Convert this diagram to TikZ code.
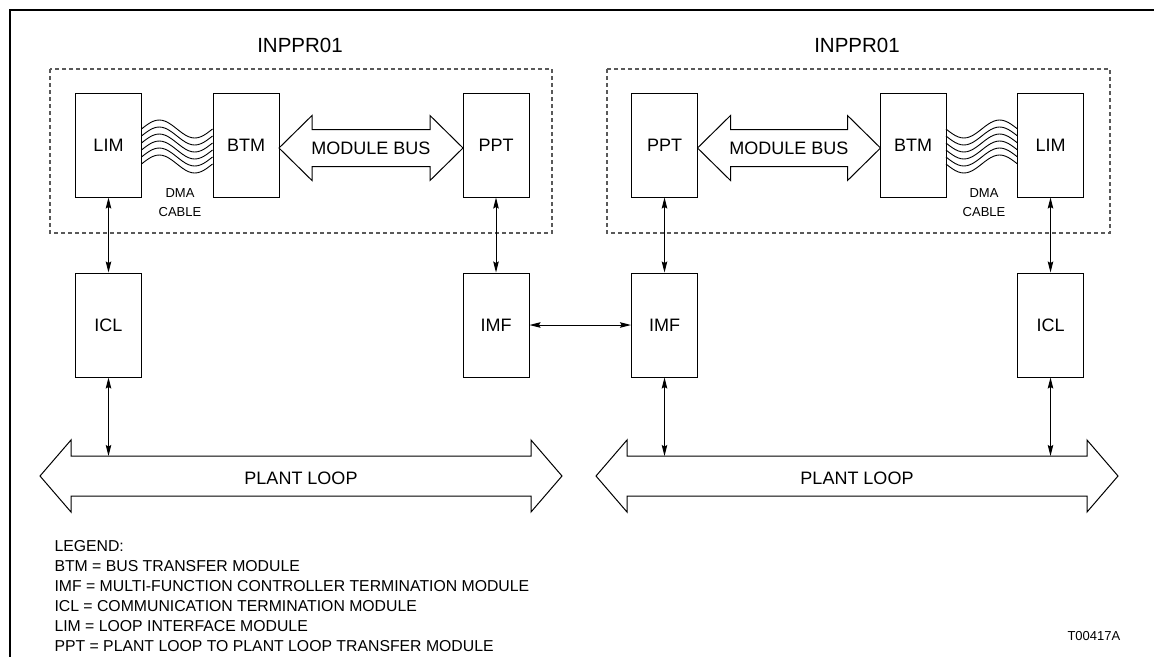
\documentclass[tikz,border=0pt]{standalone}
\usepackage{fontspec}
\setmainfont{Liberation Sans}
\usetikzlibrary{arrows.meta}

% fat double arrow: left x, right x, mid y, head length, head half height, shaft half height
\newcommand{\fatarrow}[6]{%
  \draw (#1,#3) -- (#1+#4,#3-#5) -- (#1+#4,#3-#6) -- (#2-#4,#3-#6) -- (#2-#4,#3-#5)
    -- (#2,#3) -- (#2-#4,#3+#5) -- (#2-#4,#3+#6) -- (#1+#4,#3+#6) -- (#1+#4,#3+#5) -- cycle;}

\tikzset{
  module/.style={draw, rectangle, minimum width=66pt, minimum height=104pt, inner sep=0pt,
    font=\fontsize{18}{20}\selectfont},
  buslabel/.style={inner sep=0pt, font=\fontsize{18}{20}\selectfont},
  title/.style={inner sep=0pt, font=\fontsize{20.5}{22}\selectfont},
  small/.style={inner sep=0pt, align=center, font=\fontsize{13}{19}\selectfont},
  legendline/.style={inner sep=0pt, anchor=base west, font=\fontsize{15.8}{20}\selectfont},
  link/.style={{Stealth[length=11pt,width=5.5pt,inset=1.5pt]}-{Stealth[length=11pt,width=5.5pt,inset=1.5pt]}},
  rack/.style={draw=black!65, dash pattern=on 4pt off 3pt, line width=1.3pt}
}

\begin{document}
\begin{tikzpicture}[x=1pt, y=-1pt, line width=1pt]
\useasboundingbox (0,0) rectangle (1154,657);

% frame
\draw[line width=1.3pt] (1154,10) -- (10,10) -- (10,657);

% left INPPR01
\node[title] (tleft) at (300,45) {INPPR01};
\draw[rack] (50,69) rectangle (552,233);
\node[module] (LIMa) at (108.5,145) {LIM};
\node[module] (BTMa) at (246,145) {BTM};
\node[module] (PPTa) at (496,145) {PPT};
\foreach \k in {0,...,5}
  \draw[line width=0.9pt] plot[smooth, domain=0:1, samples=25, variable=\t]
    ({141.5+71*\t},{129+7*\k-9*sin(360*\t)});
\node[small] (dmaa) at (180,202.5) {DMA\\CABLE};
\fatarrow{279}{463}{148}{33}{32.5}{18.5}
\node[buslabel] (busa) at (371,148) {MODULE BUS};

% right INPPR01
\node[title] (tright) at (857,45) {INPPR01};
\draw[rack] (607,69) rectangle (1110,233);
\node[module] (PPTb) at (664.5,145) {PPT};
\node[module] (BTMb) at (913,145) {BTM};
\node[module] (LIMb) at (1050.5,145) {LIM};
\foreach \k in {0,...,5}
  \draw[line width=0.9pt] plot[smooth, domain=0:1, samples=25, variable=\t]
    ({946+71.5*\t},{129+7*\k+9*sin(360*\t)});
\node[small] (dmab) at (984,202.5) {DMA\\CABLE};
\fatarrow{697.5}{880.5}{148}{33}{32.5}{18.5}
\node[buslabel] (busb) at (789,148) {MODULE BUS};

% termination units
\node[module] (ICLa) at (108.5,325) {ICL};
\node[module] (IMFa) at (496,325) {IMF};
\node[module] (IMFb) at (664.5,325) {IMF};
\node[module] (ICLb) at (1050.5,325) {ICL};

% plant loops
\fatarrow{40}{562}{476}{31}{36}{20}
\node[buslabel] (loopa) at (301,478) {PLANT LOOP};
\fatarrow{596}{1118}{476}{31}{36}{20}
\node[buslabel] (loopb) at (857,478) {PLANT LOOP};
\coordinate (loopatop) at (301,456);
\coordinate (loopbtop) at (857,456);

% connections
\draw[link] (LIMa.south) -- (ICLa.north);
\draw[link] (PPTa.south) -- (IMFa.north);
\draw[link] (PPTb.south) -- (IMFb.north);
\draw[link] (LIMb.south) -- (ICLb.north);
\draw[link] (IMFa.east) -- (IMFb.west);
\draw[link] (ICLa.south) -- (ICLa.south |- loopatop);
\draw[link] (IMFb.south) -- (IMFb.south |- loopbtop);
\draw[link] (ICLb.south) -- (ICLb.south |- loopbtop);

% legend
\foreach \txt [count=\i] in {LEGEND:, BTM = BUS TRANSFER MODULE,
    IMF = MULTI-FUNCTION CONTROLLER TERMINATION MODULE,
    ICL = COMMUNICATION TERMINATION MODULE, LIM = LOOP INTERFACE MODULE,
    PPT = PLANT LOOP TO PLANT LOOP TRANSFER MODULE}
  \node[legendline] (leg\i) at (54,531+20*\i) {\txt};

\node[inner sep=0pt, anchor=base west, font=\fontsize{13}{15}\selectfont] (fignum) at (1067,640) {T00417A};
\end{tikzpicture}
\end{document}
